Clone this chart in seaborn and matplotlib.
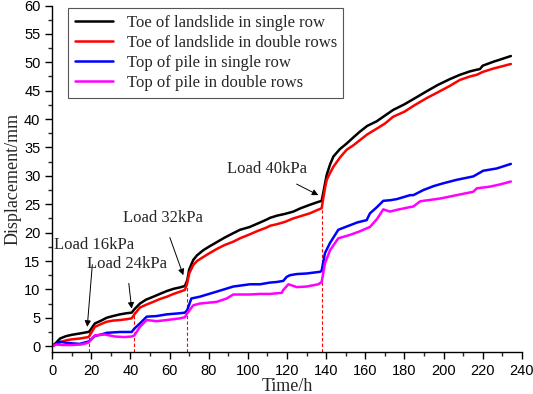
import pandas as pd
import numpy as np
import matplotlib
matplotlib.use("Agg")
import matplotlib.pyplot as plt
from matplotlib.ticker import MultipleLocator
import seaborn as sns

toe_single_t = [0, 2, 4, 7, 10, 14, 18.4, 19, 21.8, 25, 27.8, 31, 34.6, 38, 40.6, 42, 44.8, 48, 51.6, 55,
                58.5, 62, 65.3, 67.8, 69, 70, 72.1, 74, 77.2, 80, 84, 88, 92.5, 96, 101, 105, 109.6, 111.3,
                115, 119, 123.2, 127, 131.7, 135, 137.7, 138.5, 139.5, 140.3, 142, 143.7, 147, 150.5, 154,
                157.3, 161, 165.8, 170, 174.2, 180, 185, 191.4, 197, 203, 208.4, 213.5, 217, 218.6, 220,
                225.5, 230, 234.4]
toe_single_v = [0, 0.6, 1.35, 1.76, 2.0, 2.23, 2.5, 2.6, 4.0, 4.5, 5.0, 5.3, 5.6, 5.8, 5.9, 6.5, 7.5, 8.2,
                8.7, 9.2, 9.7, 10.1, 10.35, 10.6, 11.6, 13.5, 15.2, 16.0, 16.9, 17.5, 18.3, 19.1, 19.9, 20.5,
                21.0, 21.6, 22.3, 22.6, 23.0, 23.3, 23.7, 24.3, 24.9, 25.3, 25.6, 27.0, 28.8, 30.2, 32.0,
                33.4, 34.7, 35.7, 36.8, 37.8, 38.8, 39.6, 40.6, 41.6, 42.6, 43.6, 44.9, 46.0, 47.0, 47.8,
                48.4, 48.7, 48.8, 49.4, 50.1, 50.6, 51.1]

toe_double_t = [0, 2, 5, 7.4, 10, 14.2, 18.4, 19, 21.8, 25, 27.8, 31, 34.6, 38, 40.6, 42, 44.8, 48, 51.6, 55,
                58.5, 62, 65.3, 67.8, 69, 70, 72.1, 74, 77.2, 80, 84, 88, 92.5, 96, 101, 105, 109.6, 111.3,
                115, 119, 123.2, 127, 131.7, 135, 137.7, 138.5, 139.5, 140.3, 142, 143.7, 147, 150.5, 154,
                157.3, 161, 165.8, 170, 174.2, 180, 185, 191.4, 197, 203, 208.4, 213.5, 217, 220, 225.5,
                230, 234.4]
toe_double_v = [0, 0.4, 0.8, 1.06, 1.2, 1.35, 1.6, 1.8, 3.4, 3.9, 4.3, 4.5, 4.6, 4.75, 4.9, 5.6, 6.8, 7.3,
                7.8, 8.3, 8.7, 9.2, 9.6, 9.9, 11.1, 12.8, 14.3, 15.0, 15.7, 16.3, 17.1, 17.8, 18.4, 19.0,
                19.7, 20.3, 20.9, 21.2, 21.5, 21.9, 22.5, 22.9, 23.4, 23.9, 24.3, 26.0, 28.0, 29.3, 30.5,
                31.6, 33.2, 34.6, 35.4, 36.3, 37.3, 38.3, 39.2, 40.4, 41.3, 42.4, 43.7, 44.7, 45.8, 46.9,
                47.5, 47.8, 48.3, 48.9, 49.3, 49.7]

pile_single_t = [0, 2, 4, 7, 10, 14, 18.4, 19, 21.8, 25.6, 27.8, 34.6, 40.6, 42, 44.8, 48.3, 53.3, 58.5,
                 65.3, 67.8, 69, 71.1, 75.3, 84, 92.5, 101, 106.2, 111.3, 114.7, 118.1, 119.8, 121.5, 125,
                 130, 136.9, 137.7, 139.4, 142, 146.2, 152.2, 156, 160.7, 162.4, 166, 169.2, 172.6, 176.1,
                 182.9, 184.6, 189.7, 195, 200, 206.7, 211, 215.2, 220.3, 227.2, 234.4]
pile_single_v = [0, 0.4, 0.8, 0.6, 0.5, 0.4, 0.8, 0.9, 1.8, 2.1, 2.35, 2.5, 2.5, 3.1, 4.0, 5.2, 5.3, 5.6,
                 5.8, 5.9, 6.35, 8.4, 8.7, 9.6, 10.5, 10.9, 10.9, 11.2, 11.3, 11.5, 12.2, 12.5, 12.7, 12.8,
                 13.1, 13.3, 16.4, 18.2, 20.5, 21.3, 21.8, 22.2, 23.4, 24.5, 25.6, 25.7, 25.9, 26.6, 26.6,
                 27.5, 28.2, 28.7, 29.3, 29.6, 29.9, 30.9, 31.3, 32.1]

pile_double_t = [0, 2, 5, 10, 15, 18.4, 19, 21.8, 26.9, 32, 36.8, 40.6, 42, 44.8, 48.3, 53.3, 58.5, 65.3,
                 67.8, 69, 72.1, 75.3, 84, 89.2, 92.5, 101, 106.2, 111.3, 117.3, 118.1, 120.7, 125, 130,
                 136, 137.7, 139.4, 142, 146.2, 152.2, 157, 162.4, 166, 169.2, 172.6, 176, 182.9, 184.6,
                 188, 189.7, 198.2, 206.7, 215.2, 217, 223.8, 229, 234.4]
pile_double_v = [0, 0.3, 0.2, 0.2, 0.3, 0.6, 0.8, 1.9, 2.05, 1.7, 1.6, 1.7, 1.9, 3.4, 4.6, 4.4, 4.6, 4.9,
                 5.1, 5.8, 7.2, 7.5, 7.8, 8.4, 9.1, 9.1, 9.2, 9.2, 9.4, 9.9, 10.9, 10.4, 10.5, 10.9, 11.3,
                 14.6, 16.9, 19.0, 19.6, 20.2, 21.0, 22.4, 24.1, 23.7, 24.0, 24.5, 24.6, 25.5, 25.6, 26.0,
                 26.6, 27.2, 27.8, 28.1, 28.5, 29.0]

labels = ["Toe of landslide in single row", "Toe of landslide in double rows",
          "Top of pile in single row", "Top of pile in double rows"]
colors = ["black", "#ff0000", "#0000ff", "#ff00ff"]

load_t = [19, 42, 69, 138]
load_top = [2.5, 6.0, 11.0, 26.0]
load_text = ["Load 16kPa", "Load 24kPa", "Load 32kPa", "Load 40kPa"]
text_xy = [(21.3, 17.8), (38.0, 14.5), (56.6, 22.5), (109.8, 31.2)]
arrow_tip = [(17.9, 3.4), (40.6, 6.6), (67.0, 12.5), (136.0, 26.6)]

frames = []
for lab, t, v in zip(labels,
                     [toe_single_t, toe_double_t, pile_single_t, pile_double_t],
                     [toe_single_v, toe_double_v, pile_single_v, pile_double_v]):
    frames.append(pd.DataFrame({"Time": t, "Disp": v, "series": lab}))
data = pd.concat(frames, ignore_index=True)

sns.set_style("ticks")
plt.rcParams["font.family"] = ["Liberation Sans", "DejaVu Sans"]

fig = plt.figure(figsize=(5.33, 3.94), dpi=100)
ax = fig.add_axes([0.098, 0.107, 0.881, 0.879])

ax.vlines(load_t, -1, load_top, colors="#ff0000", linestyles=(0, (3, 2)), linewidth=0.8)

sns.lineplot(data=data, x="Time", y="Disp", hue="series", hue_order=labels,
             palette=colors, estimator=None, sort=False, linewidth=1.8, ax=ax)

for txt, xy, tip in zip(load_text, text_xy, arrow_tip):
    ax.annotate(txt, xy=tip, xytext=xy, ha="center", va="center",
                fontsize=12, family="Liberation Serif",
                arrowprops=dict(arrowstyle="-|>", color="black", lw=0.7,
                                mutation_scale=9, shrinkA=6, shrinkB=0))

ax.set_xlim(0, 240)
ax.set_ylim(-1, 60)
ax.xaxis.set_major_locator(MultipleLocator(20))
ax.xaxis.set_minor_locator(MultipleLocator(10))
ax.yaxis.set_major_locator(MultipleLocator(5))
ax.yaxis.set_minor_locator(MultipleLocator(2.5))
ax.tick_params(which="major", direction="out", length=5, width=1, labelsize=10.5, colors="black")
ax.tick_params(which="minor", direction="out", length=3, width=1)
sns.despine(ax=ax)
for s in ["left", "bottom"]:
    ax.spines[s].set_color("black")
    ax.spines[s].set_linewidth(1)

ax.set_xlabel("Time/h", family="Liberation Serif", fontsize=13, labelpad=0)
ax.set_ylabel("Displacement/mm", family="Liberation Serif", fontsize=13, labelpad=2)

leg = ax.legend(loc="upper left", bbox_to_anchor=(0.034, 0.993), borderaxespad=0,
                prop={"family": "Liberation Serif", "size": 12}, frameon=True,
                fancybox=False, framealpha=1, edgecolor="#555555",
                handlelength=2.3, labelspacing=0.25, borderpad=0.4)
leg.get_frame().set_linewidth(0.8)
for line in leg.get_lines():
    line.set_linewidth(1.8)

fig.savefig("out.png", dpi=100)
